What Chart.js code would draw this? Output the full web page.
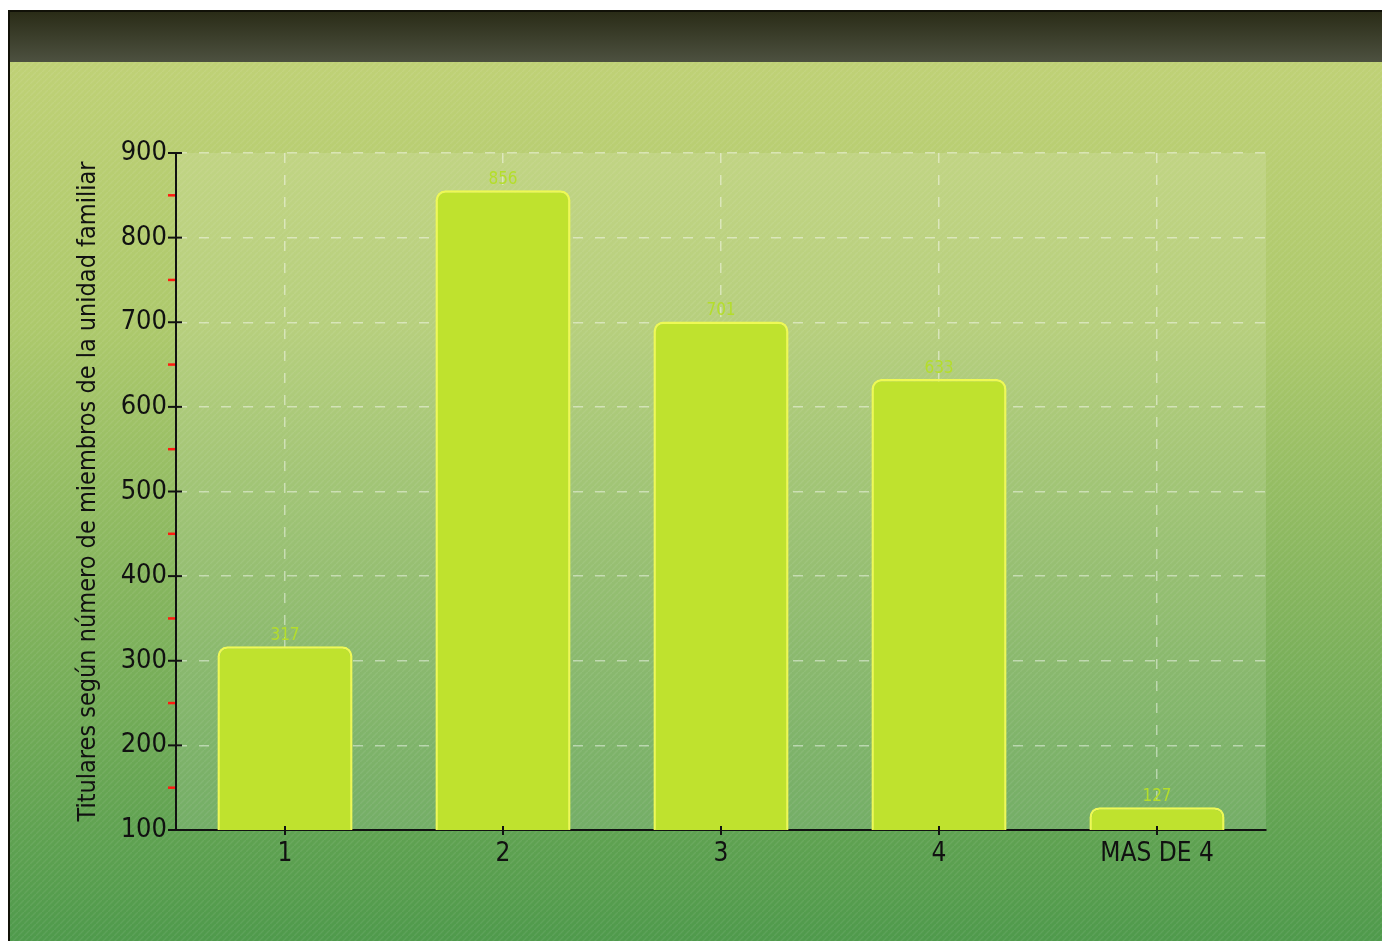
<!DOCTYPE html>
<html>
<head>
<meta charset="utf-8">
<title>Titulares según número de miembros de la unidad familiar</title>
<script src="https://cdn.jsdelivr.net/npm/chart.js@4/dist/chart.umd.min.js"></script>
<style>
    html, body { margin: 0; padding: 0; background: #ffffff; overflow: hidden; }
    canvas { display: block; }
</style>
</head>
<body>
<canvas id="barChart" width="1382" height="941"></canvas>
<script>
// Chart data
var categories = ['1', '2', '3', '4', 'MAS DE 4'];
var titulares = [317, 856, 701, 633, 127];
var yTicks = [100, 200, 300, 400, 500, 600, 700, 800, 900];
var yTitle = 'Titulares según número de miembros de la unidad familiar';

var condensed = "'DejaVu Sans Condensed', 'Liberation Sans Narrow', 'DejaVu Sans', sans-serif";

// Page background: dark header strip and green gradient with faint diagonal stripes
var backgroundPlugin = {
    id: 'background',
    beforeDraw: function(chart) {
        var ctx = chart.ctx;
        var w = chart.width, h = chart.height;
        var area = chart.chartArea;
        ctx.save();
        ctx.fillStyle = '#ffffff';
        ctx.fillRect(0, 0, w, h);

        ctx.fillStyle = '#111108';
        ctx.fillRect(8, 10, w - 8, h - 10);

        var head = ctx.createLinearGradient(0, 12, 0, 62);
        head.addColorStop(0, '#2a2c17');
        head.addColorStop(1, '#4d5140');
        ctx.fillStyle = head;
        ctx.fillRect(10, 12, w - 10, 50);

        var bg = ctx.createLinearGradient(0, 63, 0, h);
        bg.addColorStop(0, '#bfd176');
        bg.addColorStop(0.3, '#adc96c');
        bg.addColorStop(0.65, '#7fb25c');
        bg.addColorStop(1, '#4f9a4c');
        ctx.fillStyle = bg;
        ctx.fillRect(10, 62, w - 10, h - 62);

        // faint diagonal stripes
        var tile = document.createElement('canvas');
        tile.width = 6; tile.height = 6;
        var tctx = tile.getContext('2d');
        tctx.strokeStyle = 'rgba(255,255,255,0.07)';
        tctx.lineWidth = 1.5;
        tctx.beginPath();
        tctx.moveTo(0, 6); tctx.lineTo(6, 0);
        tctx.stroke();
        ctx.fillStyle = ctx.createPattern(tile, 'repeat');
        ctx.fillRect(10, 62, w - 10, h - 62);

        // lighter plot panel
        ctx.fillStyle = 'rgba(255,255,255,0.12)';
        ctx.fillRect(area.left, area.top, area.right - area.left, area.bottom - area.top);
        ctx.restore();
    }
};

// Axis tick marks (black majors crossing the axis, red minors) and value labels
var marksPlugin = {
    id: 'marks',
    afterDatasetsDraw: function(chart) {
        var ctx = chart.ctx;
        var yScale = chart.scales.y;
        var xScale = chart.scales.x;
        var left = chart.chartArea.left;
        var bottom = chart.chartArea.bottom;
        ctx.save();
        ctx.lineWidth = 2;
        ctx.strokeStyle = '#111111';
        yTicks.forEach(function(v) {
            var py = yScale.getPixelForValue(v);
            ctx.beginPath();
            ctx.moveTo(left - 8, py);
            ctx.lineTo(left + 6, py);
            ctx.stroke();
        });
        ctx.strokeStyle = '#ff1a10';
        ctx.lineWidth = 2.5;
        yTicks.slice(0, -1).forEach(function(v) {
            var py = yScale.getPixelForValue(v + 50);
            ctx.beginPath();
            ctx.moveTo(left - 8, py);
            ctx.lineTo(left - 1, py);
            ctx.stroke();
        });
        ctx.strokeStyle = '#111111';
        ctx.lineWidth = 2;
        categories.forEach(function(c, i) {
            var px = xScale.getPixelForValue(i);
            ctx.beginPath();
            ctx.moveTo(px, bottom - 4);
            ctx.lineTo(px, bottom + 5);
            ctx.stroke();
        });

        var meta = chart.getDatasetMeta(0);
        ctx.fillStyle = '#b4de2a';
        ctx.font = '17px ' + condensed;
        ctx.textAlign = 'center';
        ctx.textBaseline = 'bottom';
        meta.data.forEach(function(bar, i) {
            ctx.fillText(String(titulares[i]), bar.x, bar.y - 2);
        });
        ctx.restore();
    }
};

document.addEventListener('DOMContentLoaded', function() {
    var ctx = document.getElementById('barChart');

    new Chart(ctx, {
        type: 'bar',
        data: {
            labels: categories,
            datasets: [{
                label: 'Titulares',
                data: titulares,
                backgroundColor: '#bfe22e',
                borderColor: '#eef955',
                borderWidth: 2.5,
                borderRadius: 10,
                borderSkipped: false,
                barPercentage: 0.62,
                categoryPercentage: 1
            }]
        },
        options: {
            responsive: false,
            animation: false,
            devicePixelRatio: 1,
            layout: { padding: { top: 153, right: 116, left: 0, bottom: 0 } },
            plugins: {
                legend: { display: false },
                tooltip: { enabled: false }
            },
            scales: {
                x: {
                    afterFit: function(scale) { scale.height = 111; },
                    grid: {
                        offset: false,
                        drawTicks: false,
                        color: 'rgba(255,255,255,0.45)',
                        lineWidth: 1.5
                    },
                    border: { color: '#111111', width: 2, dash: [10, 12] },
                    ticks: {
                        color: '#111111',
                        padding: 9,
                        font: { family: condensed, size: 26 }
                    }
                },
                y: {
                    min: 100,
                    max: 900,
                    afterFit: function(scale) { scale.width = 176; },
                    grid: {
                        drawTicks: false,
                        color: 'rgba(255,255,255,0.45)',
                        lineWidth: 1.5
                    },
                    border: { color: '#111111', width: 2, dash: [10, 12] },
                    ticks: {
                        stepSize: 100,
                        color: '#111111',
                        padding: 9,
                        font: { family: condensed, size: 27 }
                    },
                    title: {
                        display: true,
                        text: yTitle,
                        color: '#111111',
                        padding: { top: 73, bottom: 0 },
                        font: { family: condensed, size: 25 }
                    }
                }
            }
        },
        plugins: [backgroundPlugin, marksPlugin]
    });
});
</script>
</body>
</html>
